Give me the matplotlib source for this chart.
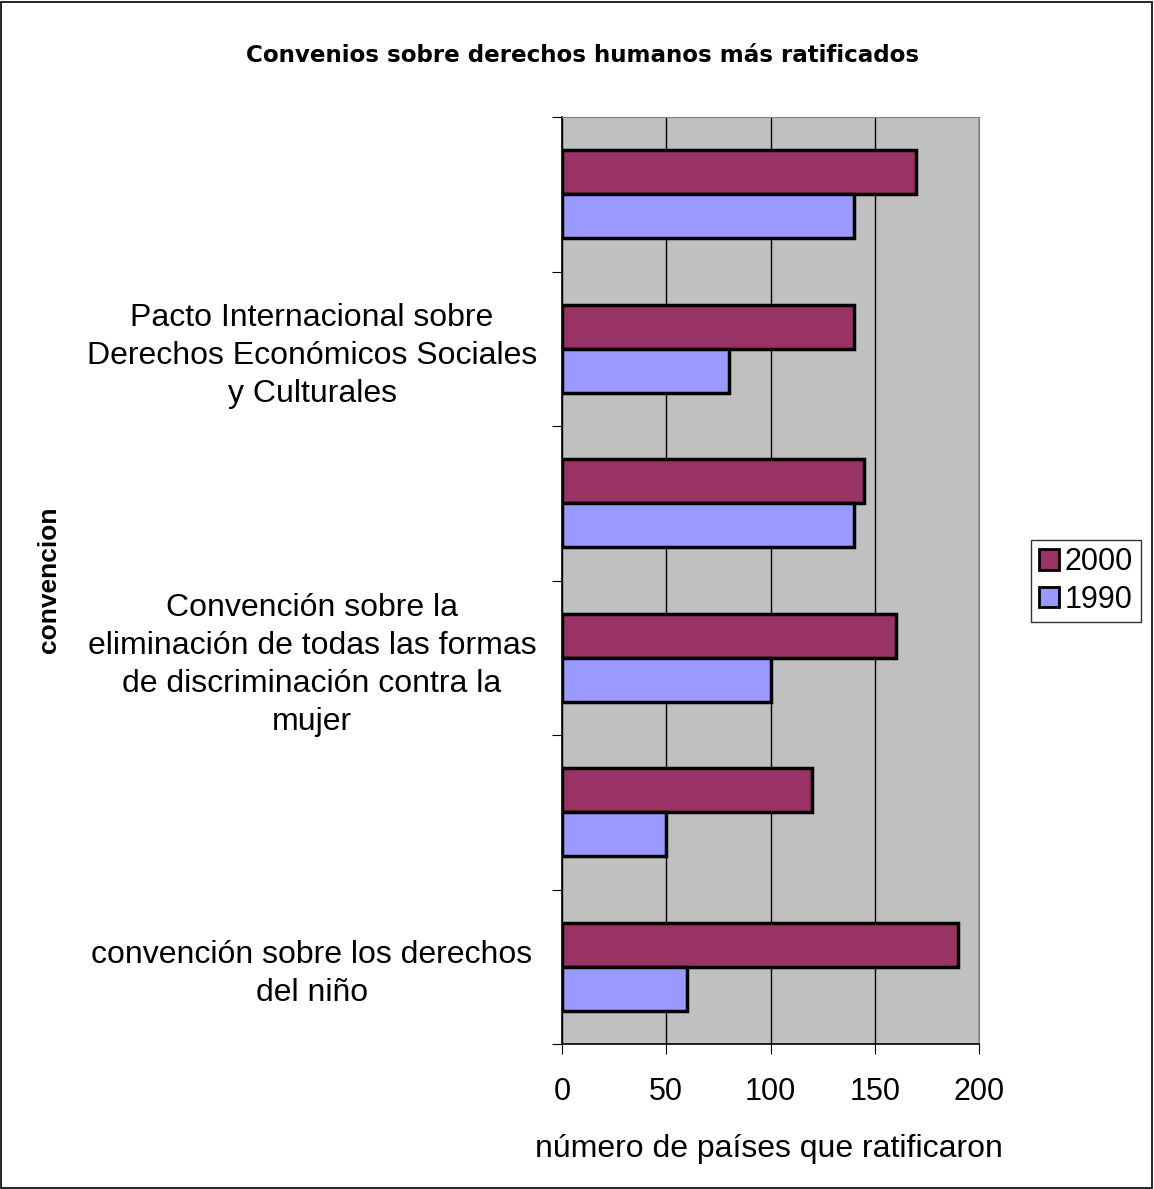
import matplotlib
matplotlib.use("Agg")
import matplotlib.pyplot as plt
import numpy as np
from matplotlib.patches import Rectangle
from matplotlib.ticker import FixedLocator

# categorías de abajo hacia arriba (Excel solo muestra una de cada dos etiquetas)
categorias = [
    "convención sobre los derechos\ndel niño",
    "",
    "Convención sobre la\neliminación de todas las formas\nde discriminación contra la\nmujer",
    "",
    "Pacto Internacional sobre\nDerechos Económicos Sociales\ny Culturales",
    "",
]
valores_2000 = [190, 120, 160, 145, 140, 170]
valores_1990 = [60, 50, 100, 140, 80, 140]
colores = {"2000": "#993366", "1990": "#9999FF"}

plt.rcParams["font.family"] = ["Liberation Sans", "DejaVu Sans"]

W, H = 1154, 1189
fig = plt.figure(figsize=(W / 100, H / 100), dpi=100)
fig.patch.set_facecolor("white")

# borde del gráfico
fig.patches.append(Rectangle((0.0005, 0.0005), 0.998, 0.998, transform=fig.transFigure,
                             fill=False, edgecolor="black", linewidth=1.2))

ax = fig.add_axes([562 / W, 1 - 1044 / H, (979 - 562) / W, (1044 - 117) / H])
ax.set_facecolor("#C0C0C0")

y = np.arange(len(categorias))
ancho = 0.285
ax.barh(y + ancho / 2, valores_2000, height=ancho, color=colores["2000"],
        edgecolor="black", linewidth=2.5, label="2000", zorder=3)
ax.barh(y - ancho / 2, valores_1990, height=ancho, color=colores["1990"],
        edgecolor="black", linewidth=2.5, label="1990", zorder=3)

ax.set_xlim(0, 200)
ax.set_ylim(-0.5, len(categorias) - 0.5)
ax.set_xticks([0, 50, 100, 150, 200])
ax.tick_params(axis="x", labelsize=22, length=7, direction="out", pad=17, color="black")
ax.xaxis.grid(True, color="black", linewidth=1.0, zorder=1)

# ticks en los límites, etiquetas en los centros
ax.yaxis.set_major_locator(FixedLocator(np.arange(-0.5, len(categorias), 1.0)))
ax.set_yticklabels([])
ax.yaxis.set_minor_locator(FixedLocator(y))
ax.set_yticklabels(categorias, minor=True, fontsize=23, ha="center",
                   multialignment="center", linespacing=1.35)
ax.tick_params(axis="y", which="major", length=7, direction="out")
ax.tick_params(axis="y", which="minor", length=0, pad=180)

for s in ["top", "right"]:
    ax.spines[s].set_color("#808080")
for s in ["left", "bottom"]:
    ax.spines[s].set_color("black")
    ax.spines[s].set_linewidth(1.2)

fig.text(583 / W, 1 - 62 / H, "Convenios sobre derechos humanos más ratificados",
         ha="center", va="baseline", fontsize=16.6, fontweight="bold",
         family=["DejaVu Sans"])
fig.text(769 / W, 1 - 1157 / H, "número de países que ratificaron",
         ha="center", va="baseline", fontsize=23)
fig.text(49 / W, 1 - 580 / H, "convencion", rotation=90, ha="center", va="center",
         fontsize=19, fontweight="bold")

leg = fig.legend(loc="center left", bbox_to_anchor=(1031 / W, 1 - 581 / H),
                 fontsize=22, frameon=True, fancybox=False, edgecolor="black",
                 handlelength=0.65, handleheight=0.65, handletextpad=0.2,
                 borderpad=0.25, labelspacing=0.25, borderaxespad=0)
leg.get_frame().set_linewidth(1.0)
for h in leg.legend_handles:
    h.set_linewidth(2)

fig.savefig("out.png", dpi=100)
